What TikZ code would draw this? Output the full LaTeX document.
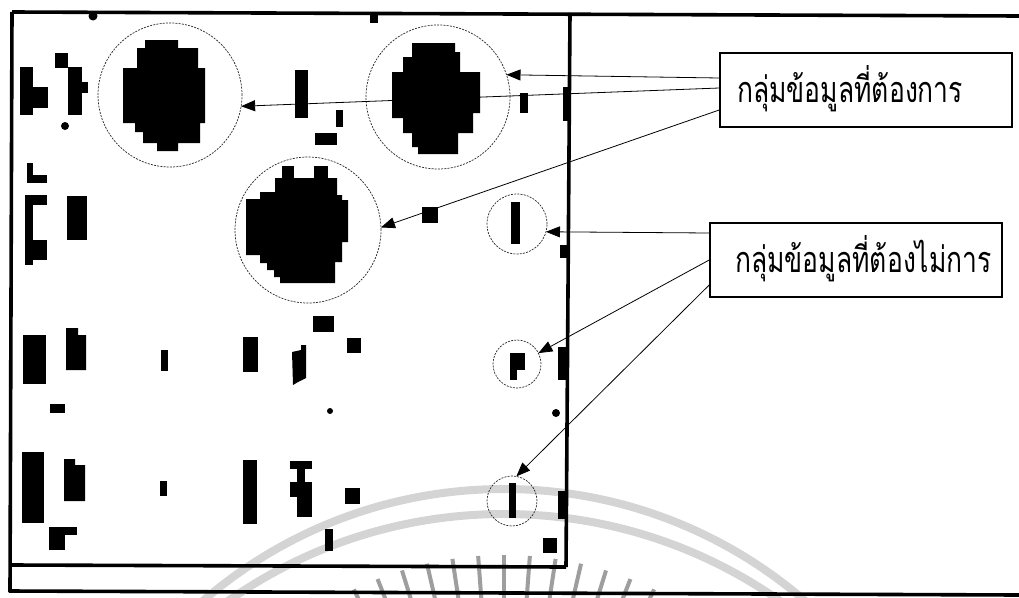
\documentclass[tikz,border=0pt]{standalone}
\usepackage{fontspec}
\newfontfamily\thaifont[Script=Thai]{Loma}
\usetikzlibrary{arrows.meta}
\begin{document}
\begin{tikzpicture}[x=1pt,y=-1pt,
  frame/.style={line width=3.6pt},
  ring/.style={circle, draw=black!85, line width=0.7pt, dash pattern=on 2pt off 1.2pt, inner sep=0pt, outer sep=0pt},
  speck/.style={fill=black},
  lblbox/.style={draw, line width=1.6pt, minimum width=292pt, minimum height=74pt, inner sep=0pt},
  lbltext/.style={font=\thaifont\fontsize{36}{40}\selectfont, inner sep=0pt, anchor=base west},
  arr/.style={line width=0.8pt, -{Triangle[length=14pt,width=11pt]}},
  wmarc/.style={draw=black!17, line width=8pt},
  wmray/.style={draw=black!38, line width=4pt}]
\useasboundingbox (0,0) rectangle (1019,597);

% faint seal behind the figure
\begin{scope}
  \clip (0,0) rectangle (1019,597);
  \draw[wmarc] (504,950) circle[radius=461pt];
  \draw[wmarc] (504,995) circle[radius=481pt];
  \foreach \k in {-6,...,6}
    \draw[wmray, shift={(504,900)}] (90+4.3*\k:345pt) -- (90+4.3*\k:280pt);
\end{scope}

% frames
\draw[frame] (12,12) -- (1019,16);
\draw[frame] (12,12) -- (10,592);
\draw[frame] (570,13) -- (566,567);
\draw[frame] (12,565) -- (566,567);
\draw[frame] (9,591) -- (1019,595);

% large clusters
\fill[speck] (145,40)--(178,40)--(178,48)--(198,48)--(198,68)--(205,68)--(205,123)--(200,123)--(200,143)--(178,143)--(178,151)--(157,151)--(157,143)--(143,143)--(143,132)--(135,132)--(135,123)--(123,123)--(123,68)--(137,68)--(137,48)--(145,48)--cycle;
\fill[speck] (412,43)--(455,43)--(455,52)--(460,52)--(460,72)--(480,72)--(480,113)--(473,113)--(473,133)--(458,133)--(458,154)--(418,154)--(418,147)--(412,147)--(412,133)--(403,133)--(403,118)--(392,118)--(392,72)--(403,72)--(403,57)--(412,57)--cycle;
\fill[speck] (282,166) rectangle (294,179);
\fill[speck] (314,166) rectangle (328,179);
\fill[speck] (275,178)--(337,178)--(337,195)--(342,195)--(342,200)--(348,200)--(348,242)--(342,242)--(342,262)--(335,262)--(335,283)--(280,283)--(280,277)--(274,277)--(274,270)--(267,270)--(267,263)--(260,263)--(260,255)--(246,255)--(246,199)--(260,199)--(260,192)--(275,192)--cycle;

% small specks
\fill[speck] (93,16) circle[radius=4.5pt];
\fill[speck] (20,67) rectangle (33,115);
\fill[speck] (33,87) rectangle (48,108);
\fill[speck] (55,53) rectangle (68,68);
\fill[speck] (68,67) rectangle (82,115);
\fill[speck] (82,82) rectangle (88,93);
\fill[speck] (65,126) circle[radius=4pt];
\fill[speck] (295,70) rectangle (308,118);
\fill[speck] (336,110) rectangle (343,127);
\fill[speck] (315,133) rectangle (337,145);
\fill[speck] (27,163) rectangle (33,183);
\fill[speck] (33,175) rectangle (47,183);
\fill[speck] (25,195) rectangle (33,265);
\fill[speck] (33,195) rectangle (47,205);
\fill[speck] (33,240) rectangle (47,260);
\fill[speck] (67,196) rectangle (87,240);
\fill[speck] (370,13) rectangle (378,23);
\fill[speck] (520,93) rectangle (528,113);
\fill[speck] (563,87) rectangle (571,121);
\fill[speck] (422,207) rectangle (438,223);
\fill[speck] (511,202) rectangle (520,244);
\fill[speck] (560,245) rectangle (567,258);
\fill[speck] (313,316) rectangle (334,332);
\fill[speck] (23,335) rectangle (46,384);
\fill[speck] (66,328)--(78,328)--(78,335)--(86,335)--(86,370)--(66,370)--cycle;
\fill[speck] (161,350) rectangle (168,371);
\fill[speck] (243,337) rectangle (258,372);
\fill[speck] (292,352)--(301,350)--(301,345)--(306,345)--(306,378)--(298,382)--(293,385)--cycle;
\fill[speck] (347,338) rectangle (361,353);
\fill[speck] (510,353) rectangle (517,380);
\fill[speck] (517,353) rectangle (525,370);
\fill[speck] (558,347) rectangle (567,380);
\fill[speck] (50,404) rectangle (65,413);
\fill[speck] (330,411) circle[radius=3pt];
\fill[speck] (556,413) circle[radius=4pt];
\fill[speck] (22,452) rectangle (44,523);
\fill[speck] (64,459)--(75,459)--(75,465)--(85,465)--(85,501)--(64,501)--cycle;
\fill[speck] (160,481) rectangle (167,496);
\fill[speck] (243,460) rectangle (257,524);
\fill[speck] (290,461) rectangle (312,469);
\fill[speck] (297,469) rectangle (305,516);
\fill[speck] (290,482) rectangle (312,497);
\fill[speck] (297,497) rectangle (312,517);
\fill[speck] (49,527) rectangle (65,550);
\fill[speck] (65,527) rectangle (77,535);
\fill[speck] (325,529) rectangle (333,551);
\fill[speck] (345,488) rectangle (360,504);
\fill[speck] (509,483) rectangle (516,518);
\fill[speck] (558,491) rectangle (568,519);
\fill[speck] (543,538) rectangle (557,553);

% rings around clusters
\node[ring, minimum size=144pt] (cA) at (170,95) {};
\node[ring, minimum size=144pt] (cB) at (438,97) {};
\node[ring, minimum size=146pt] (cC) at (308,230) {};
\node[ring, minimum size=60pt] (cD1) at (517,224) {};
\node[ring, minimum size=48pt] (cD2) at (517,364) {};
\node[ring, minimum size=50pt] (cD3) at (512,501) {};

% label boxes
\node[lblbox, fill=white] (b1) at (866,90) {};
\node[lbltext] (t1) at (737,102) {\scalebox{0.735}[1]{กลุ่มข้อมูลที่ต้องการ}};
\node[lblbox, fill=white] (b2) at (856,260) {};
\node[lbltext] (t2) at (735,272) {\scalebox{0.735}[1]{กลุ่มข้อมูลที่ต้องไม่การ}};

% pointers
\draw[arr] ([yshift=12pt]b1.west) -- (cB.18);
\draw[arr] ([yshift=2pt]b1.west) -- (cA.-9);
\draw[arr] ([yshift=-20pt]b1.west) -- (cC.2);
\draw[arr] ([yshift=27pt]b2.west) -- (cD1.-15);
\draw[arr] (b2.west) -- (cD2.27);
\draw[arr] ([yshift=-25pt]b2.west) -- (cD3.80);
\end{tikzpicture}
\end{document}
